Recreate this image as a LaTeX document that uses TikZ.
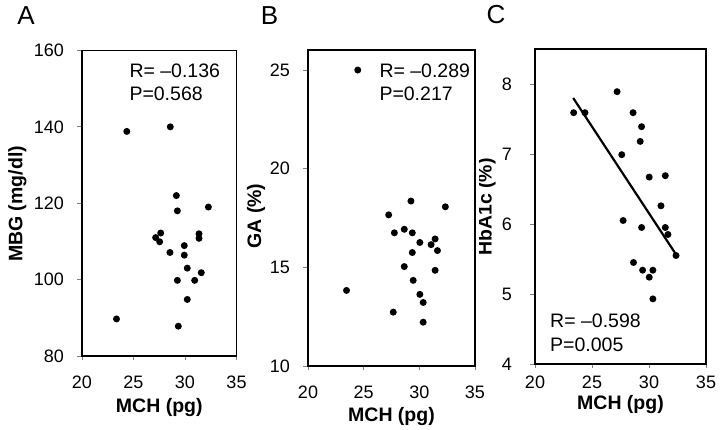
\documentclass[tikz,border=0pt]{standalone}
\usepackage{fontspec}
\setmainfont{Liberation Sans}
\usepackage{tikz}
\usetikzlibrary{positioning}
\begin{document}
\begin{tikzpicture}[x=1pt,y=1pt,
		frame/.style={line width=1.8pt,black},
		tickmark/.style={gray,line width=.8pt},
		dot/.style={fill=black},
		ticklabel/.style={font=\fontsize{18}{18}\selectfont,inner sep=0pt},
		axtitle/.style={font=\fontsize{19.5}{19.5}\selectfont\bfseries,inner sep=0pt},
		stat/.style={font=\fontsize{19.5}{19.5}\selectfont,inner sep=0pt,anchor=west},
		panel/.style={font=\fontsize{26}{26}\selectfont,inner sep=0pt}]
			\useasboundingbox (0,0) rectangle (720,430);
			\node[panel] (letA) at (26,414) {A};
			\node[panel] (letB) at (269.5,414) {B};
			\node[panel] (letC) at (496,415.5) {C};
			\node[axtitle,rotate=90] (ytA) at (17.5,226) {MBG (mg/dl)};
			\node[axtitle,rotate=90] (ytB) at (256,214) {GA (\%)};
			\begin{scope}
				\clip (479,0) rectangle (720,430);
				\node[axtitle,rotate=90] (ytC) at (486.5,223) {HbA1c (\%)};
			\end{scope}
			\node[axtitle] (xtA) at (159.3,22) {MCH (pg)};
			\node[axtitle] (xtB) at (391.5,13) {MCH (pg)};
			\node[axtitle] (xtC) at (620.5,25) {MCH (pg)};
			\begin{scope}[shift={(-124pt,-231.5pt)},x=10.3pt,y=3.819pt]
				\foreach \y in {80,100,...,160} {\draw[tickmark] (20,\y) -- ++(-5pt,0); \node[ticklabel,anchor=east] (yA\y) at ([xshift=-18pt]20,\y) {\y};}
				\foreach \x in {20,25,30,35} {\draw[tickmark] (\x,80) -- ++(0,-4pt); \node[ticklabel] (xA\x) at ([yshift=-26pt]\x,80) {\x};}
				\draw[frame] (20,80) rectangle (35,160);
				\foreach \x/\y in {23.35/89.7,24.35/138.8,28.57/140.0,29.16/122.0,29.26/118.0,32.27/119.0,27.64/112.2,27.15/111.0,27.54/109.9,31.36/112.0,31.36/110.8,29.93/108.9,28.54/107.1,29.93/106.4,30.22/103.0,31.58/101.8,29.26/99.8,30.94/99.8,30.22/94.8,29.35/87.8} \fill[dot] (\x,\y) circle (3.5pt);
			\end{scope}
			\begin{scope}[shift={(85.4pt,-133.3pt)},x=11.13pt,y=19.73pt]
				\foreach \y in {10,15,20,25} {\draw[tickmark] (20,\y) -- ++(-5pt,0); \node[ticklabel,anchor=east] (yB\y) at ([xshift=-18pt]20,\y) {\y};}
				\foreach \x in {20,25,30,35} {\draw[tickmark] (\x,10) -- ++(0,-4pt); \node[ticklabel] (xB\x) at ([yshift=-26pt]\x,10) {\x};}
				\draw[frame] (20,10) rectangle (35,26);
				\foreach \x/\y in {24.47/25.0,29.25/18.36,32.34/18.07,27.25/17.66,27.76/16.75,28.65/16.93,29.37/16.75,30.05/16.26,31.06/16.15,31.42/16.44,31.63/15.85,29.37/15.75,28.65/15.04,31.42/14.85,29.45/14.34,23.46/13.83,30.05/13.63,30.35/13.22,27.66/12.73,30.35/12.22} \fill[dot] (\x,\y) circle (3.5pt);
			\end{scope}
			\begin{scope}[shift={(307pt,-214pt)},x=11.4pt,y=70pt]
				\foreach \y in {4,...,8} {\draw[tickmark] (20,\y) -- ++(-5pt,0); \node[ticklabel,anchor=east] (yC\y) at ([xshift=-23pt]20,\y) {\y};}
				\foreach \x in {20,25,30,35} {\draw[tickmark] (\x,4) -- ++(0,-4pt); \node[ticklabel] (xC\x) at ([yshift=-18pt]\x,4) {\x};}
				\draw[frame] (20,4) rectangle (35,8.5);
				\foreach \x/\y in {27.2/7.89,23.39/7.59,24.38/7.59,28.6/7.59,29.35/7.39,29.23/7.18,27.61/6.99,30.02/6.67,31.43/6.69,31.05/6.26,27.73/6.05,29.35/5.95,31.43/5.95,31.66/5.85,32.37/5.55,28.64/5.45,29.44/5.34,30.34/5.34,30.02/5.24,30.34/4.93} \fill[dot] (\x,\y) circle (3.5pt);
				\coordinate (fitC0) at (23.35,7.80);
				\coordinate (fitC1) at (32.35,5.57);
				\draw[line width=2.2pt] (fitC0) -- (fitC1);
			\end{scope}
			\node[stat] (rA) at (129.3,359.2) {R= –0.136};
			\node[stat] (pA) at (129.3,336.5) {P=0.568};
			\node[stat] (rB) at (379.3,359.2) {R= –0.289};
			\node[stat] (pB) at (379.3,336.5) {P=0.217};
			\node[stat] (rC) at (550,109.2) {R= –0.598};
			\node[stat] (pC) at (550,85.7) {P=0.005};
		\end{tikzpicture}
\end{document}
